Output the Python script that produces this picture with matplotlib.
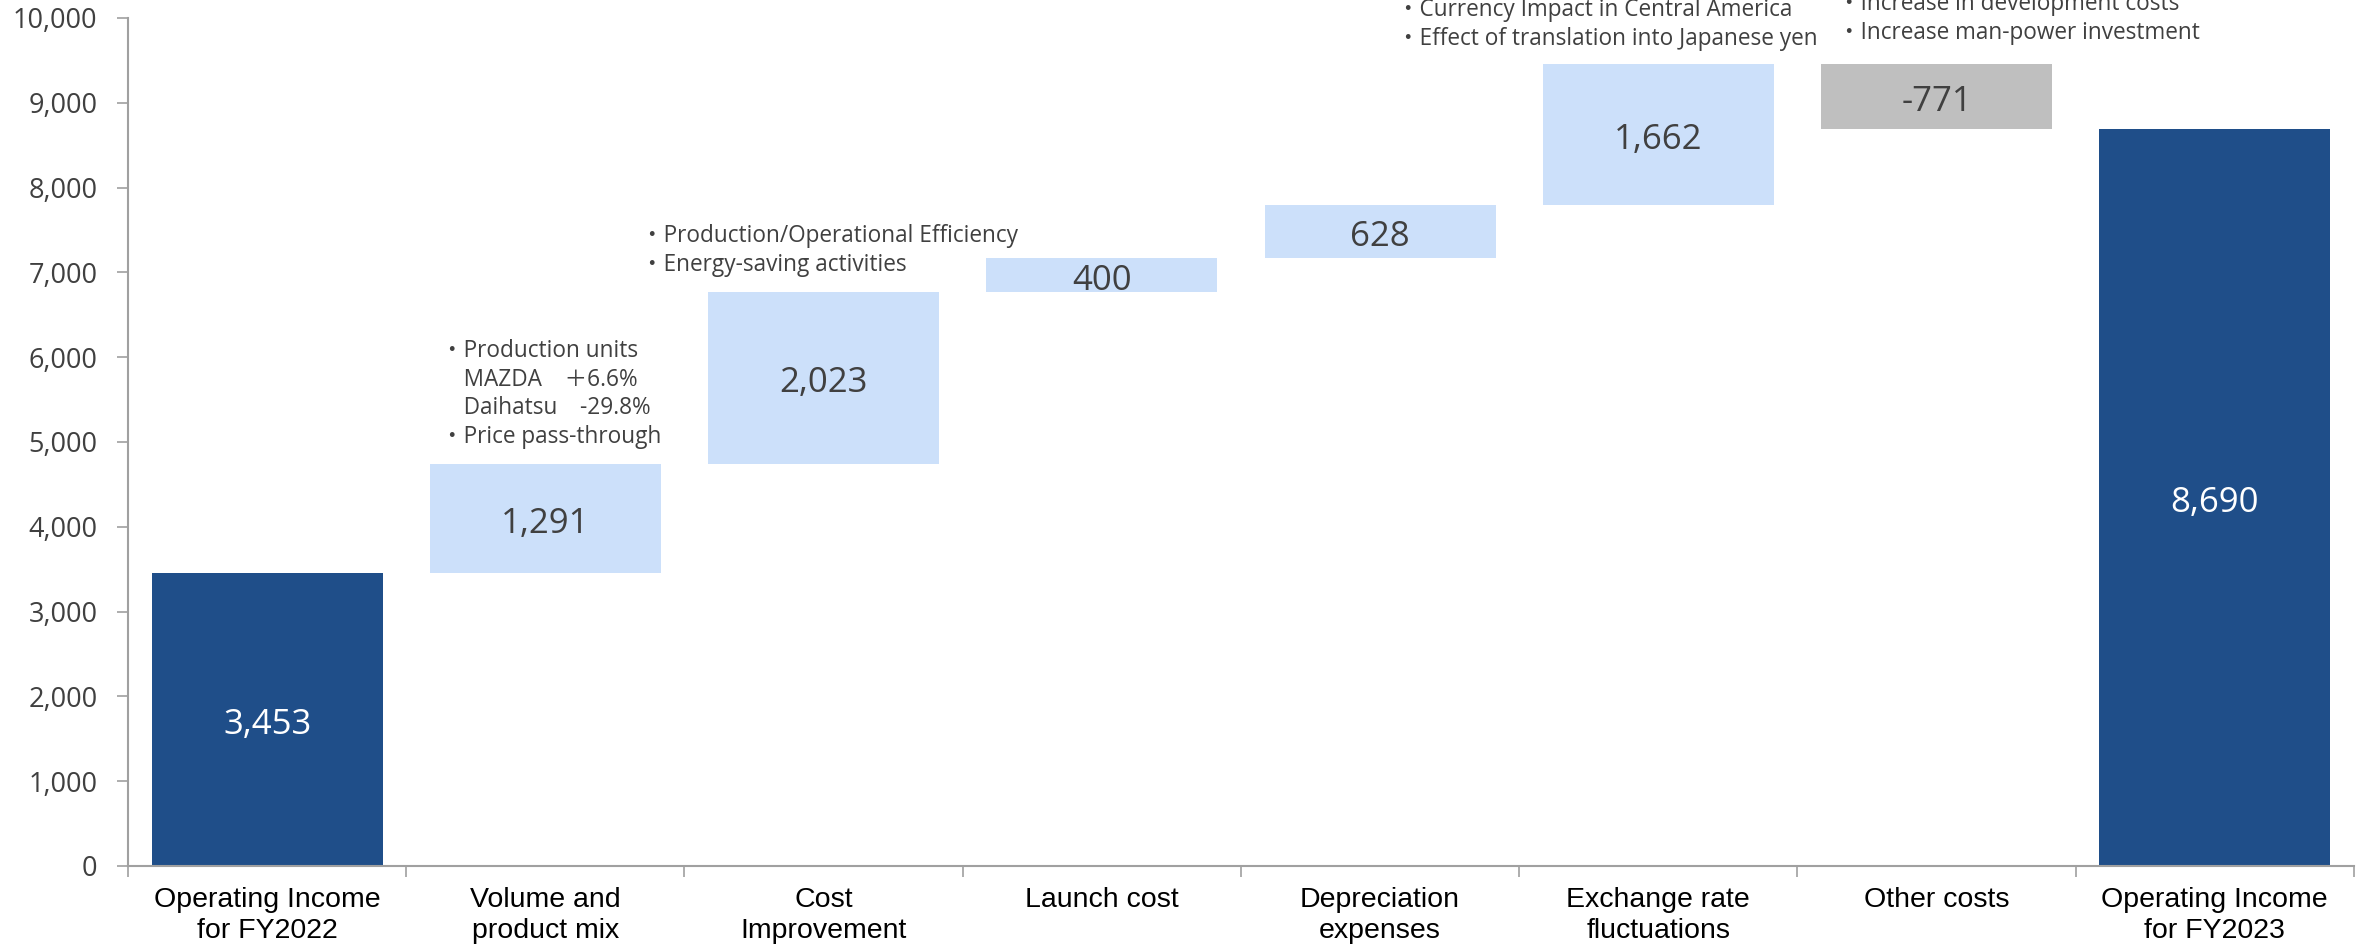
import numpy as np
import matplotlib.pyplot as plt

# Operating income bridge FY2022 -> FY2023 (million yen)
categories = ['Operating Income\nfor FY2022', 'Volume and\nproduct mix', 'Cost\nImprovement',
              'Launch cost', 'Depreciation\nexpenses', 'Exchange rate\nfluctuations',
              'Other costs', 'Operating Income\nfor FY2023']
start_value = 3453
changes = [1291, 2023, 400, 628, 1662, -771]
end_value = 8690

notes = [
    '・Production units\n\u3000MAZDA\u3000＋6.6%\n\u3000Daihatsu\u3000-29.8%\n・Price pass-through',
    '・Production/Operational Efficiency\n・Energy-saving activities',
    None,
    None,
    '・Currency Impact in Central America\n・Effect of translation into Japanese yen',
    '・Increase in development costs\n・Increase man-power investment',
]

dark_blue = '#1f4e89'
light_blue = '#cce0fa'
grey_bar = '#bfbfbf'
axis_grey = '#a0a0a0'
text_dark = '#404040'
note_font = ['Open Sans', 'Noto Sans CJK JP']

fig = plt.figure(figsize=(23.61, 9.46), dpi=100)
ax = fig.add_axes([0.0542, 0.0846, 0.9428, 0.8964])

x = np.arange(len(categories))
width = 0.83

# floating bars for the changes
levels = start_value + np.cumsum(changes)
prev = np.concatenate([[start_value], levels[:-1]])
bottoms = np.minimum(prev, levels)
heights = np.abs(changes)
colors = [light_blue if c > 0 else grey_bar for c in changes]

ax.bar(x[0], start_value, width, color=dark_blue)
ax.bar(x[1:-1], heights, width, bottom=bottoms, color=colors)
ax.bar(x[-1], end_value, width, color=dark_blue)


def value_label(xv, yv, value, color):
    ax.annotate(f'{value:,}', (xv, yv), xytext=(0, -4), textcoords='offset points',
                ha='center', va='center', color=color, fontsize=25, family=note_font)


value_label(x[0], start_value / 2, start_value, 'white')
value_label(x[-1], end_value / 2, end_value, 'white')
for xi, b, h, c in zip(x[1:-1], bottoms, heights, changes):
    value_label(xi, b + h / 2, c, text_dark)

# explanatory notes above the change bars
note_x = [0.624, 1.343, None, None, 4.062, 5.646]
note_y = [5565, 7260, None, None, 9920, 9990]
for txt, nx, ny in zip(notes, note_x, note_y):
    if txt is None:
        continue
    ax.text(nx, ny, txt, ha='left', va='center', fontsize=16.3, color=text_dark,
            family=note_font, linespacing=1.26, clip_on=False)

ax.set_xlim(-0.5, 7.5)
ax.set_ylim(0, 10000)
ax.set_yticks(np.arange(0, 10001, 1000))
ax.set_yticklabels([f'{v:,}' for v in range(0, 10001, 1000)], family=note_font)
ax.set_xticks(x)
ax.set_xticklabels(categories, fontsize=20.5, family='Liberation Sans', linespacing=1.25)
ax.set_xticks(np.arange(-0.5, 8.0, 1), minor=True)

ax.tick_params(axis='x', which='major', length=0, pad=15, colors='black')
ax.tick_params(axis='x', which='minor', length=8, width=1.2, color=axis_grey)
ax.tick_params(axis='y', length=8, width=1.2, color=axis_grey, pad=14,
               labelsize=19.5, labelcolor=text_dark)

for side in ['top', 'right']:
    ax.spines[side].set_visible(False)
for side in ['left', 'bottom']:
    ax.spines[side].set_color(axis_grey)
    ax.spines[side].set_linewidth(1.5)

fig.savefig('out.png', dpi=100)
